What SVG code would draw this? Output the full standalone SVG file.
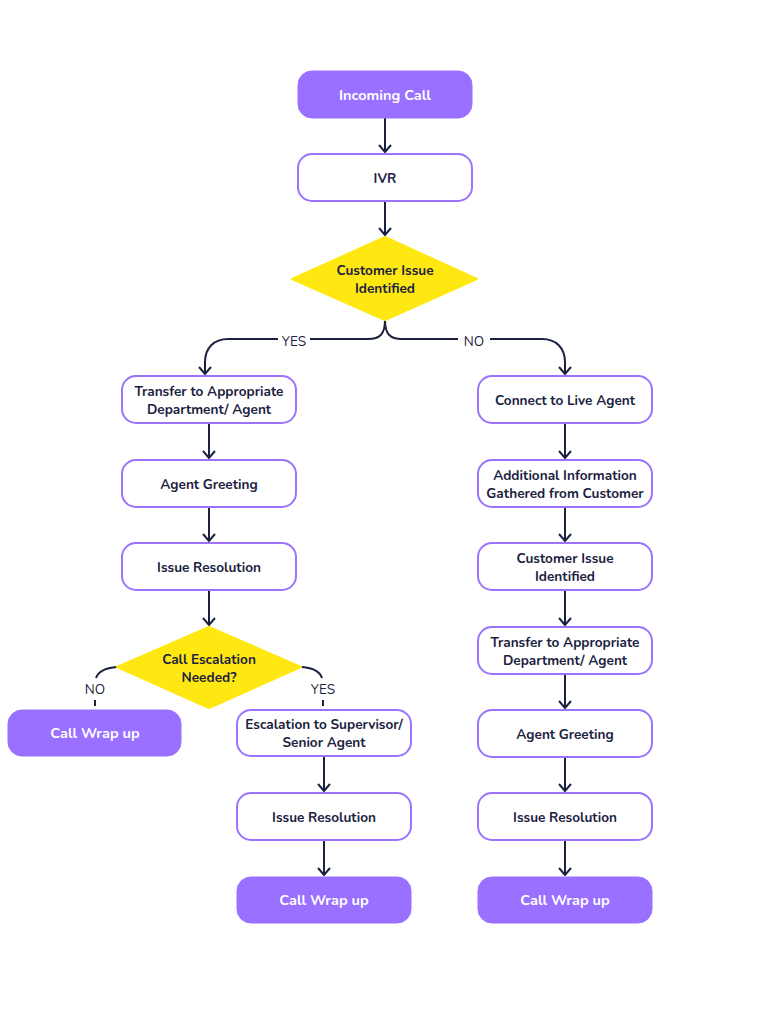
<svg xmlns="http://www.w3.org/2000/svg" width="763" height="1024" viewBox="0 0 763 1024">
<defs>
<style>
.box{fill:#fff;stroke:#9b73ff;stroke-width:2}
.fill{fill:#9970ff;stroke:#9970ff;stroke-width:1}
.dia{fill:#ffe812}
.t{font-family:"Nunito","Lato","Open Sans",sans-serif;font-weight:700;font-size:13.6px;fill:#1b2140;text-anchor:middle}
.tw{font-family:"Nunito","Lato","Open Sans",sans-serif;font-weight:700;font-size:14.5px;fill:#fff;text-anchor:middle}
.lbl{font-family:"Nunito","Lato","Open Sans",sans-serif;font-weight:400;font-size:13.5px;fill:#1b2140;text-anchor:middle}
.ln{fill:none;stroke:#1b2140;stroke-width:2}
</style>
<marker id="ad" viewBox="0 0 14 10" refX="7" refY="9" markerWidth="14" markerHeight="10" markerUnits="userSpaceOnUse" orient="0">
<path d="M1,2 L7,9 L13,2" fill="none" stroke="#1b2140" stroke-width="2"/>
</marker>
</defs>
<rect width="763" height="1024" fill="#fff"/>

<g id="connectors">
<path class="ln" d="M385,118 V152" marker-end="url(#ad)"/>
<path class="ln" d="M385,201 V235" marker-end="url(#ad)"/>
<path class="ln" d="M385,320 C385,334 380,339 368,339 H310"/>
<path class="ln" d="M278,339 H228 C214,339 205,348 205,362 V374" marker-end="url(#ad)"/>
<path class="ln" d="M385,320 C385,334 390,339 402,339 H458"/>
<path class="ln" d="M490,339 H542 C556,339 565,348 565,362 V374" marker-end="url(#ad)"/>
<path class="ln" d="M209,423 V458" marker-end="url(#ad)"/>
<path class="ln" d="M209,507 V541" marker-end="url(#ad)"/>
<path class="ln" d="M209,590 V625" marker-end="url(#ad)"/>
<path class="ln" d="M117,667 C105,668 98,672 96,678"/>
<path class="ln" d="M95,700 V706"/>
<path class="ln" d="M302,667 C314,668 320,672 322,678"/>
<path class="ln" d="M323,700 V706"/>
<path class="ln" d="M324,756 V791" marker-end="url(#ad)"/>
<path class="ln" d="M324,840 V875" marker-end="url(#ad)"/>
<path class="ln" d="M565,423 V458" marker-end="url(#ad)"/>
<path class="ln" d="M565,507 V541" marker-end="url(#ad)"/>
<path class="ln" d="M565,590 V625" marker-end="url(#ad)"/>
<path class="ln" d="M565,674 V708" marker-end="url(#ad)"/>
<path class="ln" d="M565,757 V791" marker-end="url(#ad)"/>
<path class="ln" d="M565,840 V875" marker-end="url(#ad)"/>
<text class="lbl" x="294" y="345.5">YES</text>
<text class="lbl" x="474" y="345.5">NO</text>
<text class="lbl" x="95" y="694">NO</text>
<text class="lbl" x="323" y="694">YES</text>
</g>

<g id="incoming"><rect class="fill" x="298" y="71" width="174" height="47" rx="14"/><text class="tw" x="385" y="99.5">Incoming Call</text></g>
<g id="ivr"><rect class="box" x="298" y="154" width="174" height="47" rx="14"/><text class="t" x="385" y="182.5">IVR</text></g>
<g id="d1"><path class="dia" d="M385,237 L477,279 L385,320 L292,279 Z" stroke="#ffe812" stroke-width="2" stroke-linejoin="round"/><text class="t" x="385" y="275">Customer Issue</text><text class="t" x="385" y="293">Identified</text></g>

<g id="l1"><rect class="box" x="122" y="376" width="174" height="47" rx="14"/><text class="t" x="209" y="396">Transfer to Appropriate</text><text class="t" x="209" y="414">Department/ Agent</text></g>
<g id="l2"><rect class="box" x="122" y="460" width="174" height="47" rx="14"/><text class="t" x="209" y="488.5">Agent Greeting</text></g>
<g id="l3"><rect class="box" x="122" y="543" width="174" height="47" rx="14"/><text class="t" x="209" y="571.5">Issue Resolution</text></g>
<g id="d2"><path class="dia" d="M209,627 L301,667 L209,708 L117,667 Z" stroke="#ffe812" stroke-width="2" stroke-linejoin="round"/><text class="t" x="209" y="664">Call Escalation</text><text class="t" x="209" y="682">Needed?</text></g>
<g id="wrap1"><rect class="fill" x="8" y="710" width="173" height="46" rx="14"/><text class="tw" x="95" y="738">Call Wrap up</text></g>
<g id="esc"><rect class="box" x="237" y="710" width="174" height="46" rx="14"/><text class="t" x="324" y="729">Escalation to Supervisor/</text><text class="t" x="324" y="747">Senior Agent</text></g>
<g id="esc2"><rect class="box" x="237" y="793" width="174" height="47" rx="14"/><text class="t" x="324" y="821.5">Issue Resolution</text></g>
<g id="wrap2"><rect class="fill" x="237" y="877" width="174" height="46" rx="14"/><text class="tw" x="324" y="905">Call Wrap up</text></g>

<g id="r1"><rect class="box" x="478" y="376" width="174" height="47" rx="14"/><text class="t" x="565" y="404.5">Connect to Live Agent</text></g>
<g id="r2"><rect class="box" x="478" y="460" width="174" height="47" rx="14"/><text class="t" x="565" y="480">Additional Information</text><text class="t" x="565" y="498">Gathered from Customer</text></g>
<g id="r3"><rect class="box" x="478" y="543" width="174" height="47" rx="14"/><text class="t" x="565" y="563">Customer Issue</text><text class="t" x="565" y="581">Identified</text></g>
<g id="r4"><rect class="box" x="478" y="627" width="174" height="47" rx="14"/><text class="t" x="565" y="647">Transfer to Appropriate</text><text class="t" x="565" y="665">Department/ Agent</text></g>
<g id="r5"><rect class="box" x="478" y="710" width="174" height="47" rx="14"/><text class="t" x="565" y="738.5">Agent Greeting</text></g>
<g id="r6"><rect class="box" x="478" y="793" width="174" height="47" rx="14"/><text class="t" x="565" y="821.5">Issue Resolution</text></g>
<g id="wrap3"><rect class="fill" x="478" y="877" width="174" height="46" rx="14"/><text class="tw" x="565" y="905">Call Wrap up</text></g>
</svg>
